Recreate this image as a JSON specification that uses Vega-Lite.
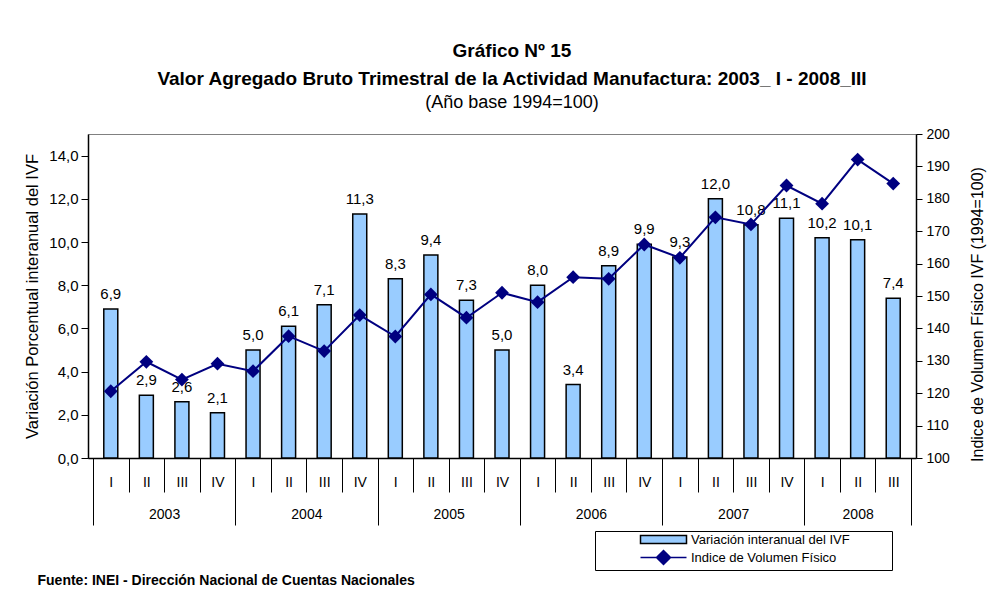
{
  "$schema": "https://vega.github.io/schema/vega-lite/v6.json",
  "width": 828,
  "height": 324,
  "autosize": "none",
  "padding": {"left": 88, "top": 134, "right": 87, "bottom": 142},
  "background": "white",
  "config": {
    "locale": {"number": {"decimal": ",", "thousands": ".", "grouping": [3], "currency": ["", ""]}},
    "font": "Liberation Sans",
    "view": {"stroke": "#808080", "strokeWidth": 1},
    "axis": {"labelFont": "Liberation Sans", "titleFont": "Liberation Sans", "labelColor": "black", "titleColor": "black", "domainColor": "black", "tickColor": "black", "grid": false, "titleFontWeight": "normal"}
  },
  "title": {
    "text": ["Gráfico Nº 15", "Valor Agregado Bruto Trimestral de la Actividad Manufactura: 2003_ I - 2008_III"],
    "subtitle": "(Año base 1994=100)",
    "anchor": "middle",
    "frame": "group",
    "dx": 10,
    "offset": 15,
    "font": "Liberation Sans",
    "fontSize": 19,
    "fontWeight": "bold",
    "lineHeight": 28,
    "color": "black",
    "subtitleFont": "Liberation Sans",
    "subtitleFontSize": 18,
    "subtitleColor": "black",
    "subtitlePadding": 5
  },
  "data": {
    "values": [
      {"i": 1, "year": 2003, "q": "I", "var": 6.9, "ivf": 120.6},
      {"i": 2, "year": 2003, "q": "II", "var": 2.9, "ivf": 129.7},
      {"i": 3, "year": 2003, "q": "III", "var": 2.6, "ivf": 124.2},
      {"i": 4, "year": 2003, "q": "IV", "var": 2.1, "ivf": 129.1},
      {"i": 5, "year": 2004, "q": "I", "var": 5.0, "ivf": 126.8},
      {"i": 6, "year": 2004, "q": "II", "var": 6.1, "ivf": 137.6},
      {"i": 7, "year": 2004, "q": "III", "var": 7.1, "ivf": 133.0},
      {"i": 8, "year": 2004, "q": "IV", "var": 11.3, "ivf": 144.1},
      {"i": 9, "year": 2005, "q": "I", "var": 8.3, "ivf": 137.5},
      {"i": 10, "year": 2005, "q": "II", "var": 9.4, "ivf": 150.5},
      {"i": 11, "year": 2005, "q": "III", "var": 7.3, "ivf": 143.3},
      {"i": 12, "year": 2005, "q": "IV", "var": 5.0, "ivf": 151.0},
      {"i": 13, "year": 2006, "q": "I", "var": 8.0, "ivf": 148.1},
      {"i": 14, "year": 2006, "q": "II", "var": 3.4, "ivf": 155.8},
      {"i": 15, "year": 2006, "q": "III", "var": 8.9, "ivf": 155.3},
      {"i": 16, "year": 2006, "q": "IV", "var": 9.9, "ivf": 165.9},
      {"i": 17, "year": 2007, "q": "I", "var": 9.3, "ivf": 161.8},
      {"i": 18, "year": 2007, "q": "II", "var": 12.0, "ivf": 174.3},
      {"i": 19, "year": 2007, "q": "III", "var": 10.8, "ivf": 172.1},
      {"i": 20, "year": 2007, "q": "IV", "var": 11.1, "ivf": 184.1},
      {"i": 21, "year": 2008, "q": "I", "var": 10.2, "ivf": 178.5},
      {"i": 22, "year": 2008, "q": "II", "var": 10.1, "ivf": 192.1},
      {"i": 23, "year": 2008, "q": "III", "var": 7.4, "ivf": 184.7}
    ]
  },
  "resolve": {"scale": {"y": "independent"}, "axis": {"x": "independent"}},
  "layer": [
    {
      "mark": {"type": "bar", "orient": "vertical", "width": 14, "strokeWidth": 1.5},
      "encoding": {
        "x": {"field": "i", "type": "quantitative", "scale": {"domain": [0.5, 23.5], "nice": false, "zero": false},
          "axis": {"orient": "bottom", "values": [1,2,3,4,5,6,7,8,9,10,11,12,13,14,15,16,17,18,19,20,21,22,23], "labelExpr": "['I','II','III','IV'][(datum.value - 1) % 4]", "ticks": false, "domain": true, "domainWidth": 1.5, "labelPadding": 24, "labelBaseline": "middle", "labelFontSize": 14, "labelFlush": false, "labelOverlap": false, "title": null}},
        "y": {"field": "var", "type": "quantitative", "stack": null, "scale": {"domain": [0, 15], "nice": false},
          "axis": {"orient": "left", "values": [0,2,4,6,8,10,12,14], "format": ".1f", "tickSize": 7, "labelPadding": 3, "labelFontSize": 15, "domainWidth": 1.5, "title": "Variación Porcentual interanual del IVF", "titleFontSize": 16.5, "titlePadding": 8}},
        "stroke": {"datum": "Variación interanual del IVF", "type": "nominal",
          "scale": {"domain": ["Variación interanual del IVF", "Indice de Volumen Físico"], "range": ["#000000", "#000080"]}},
        "color": {"datum": "Variación interanual del IVF", "type": "nominal",
          "scale": {"domain": ["Variación interanual del IVF", "Indice de Volumen Físico"], "range": ["#99CCFF", "#000080"]},
          "legend": {
            "orient": "none", "legendX": 507, "legendY": 397, "title": null,
            "strokeColor": "black", "fillColor": "white", "padding": 2,
            "symbolSize": 100, "symbolStrokeWidth": 1.5, "symbolOffset": 60, "labelOffset": 21,
            "symbolType": {"expr": "datum.value === 'Indice de Volumen Físico' ? 'M-4.6,0H4.6M0,-1.4L1.4,0L0,1.4L-1.4,0Z' : 'M-4.6,-0.8H4.6V0.8H-4.6Z'"},
            "labelFont": "Liberation Sans", "labelFontSize": 13, "labelColor": "black", "rowPadding": 0,
            "labelLimit": 400,
            "labelExpr": "datum.label + '           \u200b'"
          }}
      }
    },
    {
      "mark": {"type": "text", "baseline": "middle", "align": "center", "dy": -15, "fontSize": 15, "font": "Liberation Sans", "color": "black"},
      "encoding": {
        "x": {"field": "i", "type": "quantitative", "scale": {"domain": [0.5, 23.5], "nice": false, "zero": false},
          "axis": {"orient": "bottom", "values": [0.5,1.5,2.5,3.5,4.5,5.5,6.5,7.5,8.5,9.5,10.5,11.5,12.5,13.5,14.5,15.5,16.5,17.5,18.5,19.5,20.5,21.5,22.5,23.5], "labels": false, "domain": false, "ticks": true, "tickSize": 34, "tickWidth": 1, "title": null}},
        "y": {"field": "var", "type": "quantitative", "scale": {"domain": [0, 15], "nice": false}, "axis": null},
        "text": {"field": "var", "type": "quantitative", "format": ".1f"}
      }
    },
    {
      "mark": {"type": "line", "strokeWidth": 2},
      "encoding": {
        "x": {"field": "i", "type": "quantitative", "scale": {"domain": [0.5, 23.5], "nice": false, "zero": false},
          "axis": {"orient": "bottom", "values": [2.5, 6.5, 10.5, 14.5, 18.5, 22], "labelExpr": "toString(floor((datum.value - 0.5) / 4) + 2003)", "ticks": false, "domain": false, "labelPadding": 56, "labelBaseline": "middle", "labelFontSize": 14, "labelFlush": false, "title": null}},
        "y": {"field": "ivf", "type": "quantitative", "scale": {"domain": [100, 200], "nice": false, "zero": false},
          "axis": {"orient": "right", "values": [100,110,120,130,140,150,160,170,180,190,200], "tickSize": 6, "labelPadding": 4, "labelFontSize": 14, "domainWidth": 1.5, "title": "Indice de Volumen Físico IVF (1994=100)", "titleFontSize": 16, "titleAngle": 270, "titlePadding": 36, "titleY": 180}},
        "stroke": {"datum": "Indice de Volumen Físico", "type": "nominal"}
      }
    },
    {
      "mark": {"type": "point", "shape": "diamond", "filled": true, "size": 190, "opacity": 1},
      "encoding": {
        "x": {"field": "i", "type": "quantitative", "scale": {"domain": [0.5, 23.5], "nice": false, "zero": false},
          "axis": {"orient": "bottom", "values": [0.5, 4.5, 8.5, 12.5, 16.5, 20.5, 23.5], "labels": false, "domain": false, "ticks": true, "tickSize": 67, "tickWidth": 1,
            "title": "Fuente: INEI - Dirección Nacional de Cuentas Nacionales", "titleFont": "Liberation Sans", "titleFontWeight": "bold", "titleFontSize": 14, "titleAnchor": "start", "titleAlign": "left", "titleBaseline": "alphabetic", "titleX": -51, "titleY": 126}},
        "y": {"field": "ivf", "type": "quantitative", "scale": {"domain": [100, 200], "nice": false, "zero": false}, "axis": null},
        "color": {"datum": "Indice de Volumen Físico", "type": "nominal"}
      }
    }
  ]
}
